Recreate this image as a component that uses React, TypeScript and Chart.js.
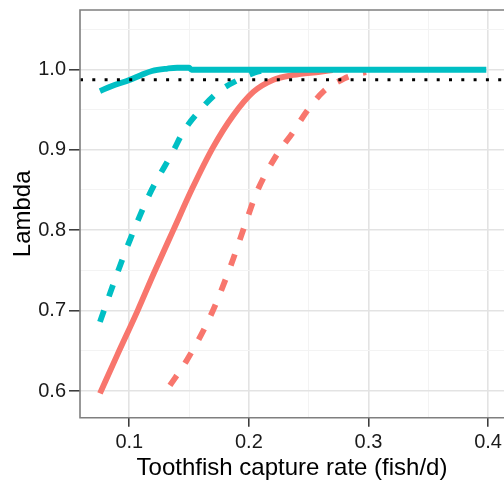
import React, { useEffect, useRef } from 'react';
import { Chart, registerables } from 'chart.js';

Chart.register(...registerables);

// Axis ticks
const xMajorTicks = [0.1, 0.2, 0.3, 0.4];
const xMinorTicks = [0.15, 0.25, 0.35];
const yMajorTicks = [0.6, 0.7, 0.8, 0.9, 1.0];
const yMinorTicks = [0.65, 0.75, 0.85, 0.95, 1.05];
const xRange = [0.0588, 0.4133];
const yRange = [0.5668, 1.0738];

// Series (x = capture rate, y = lambda)
const cyanSolidX = [0.0755, 0.085, 0.1006, 0.11, 0.119, 0.132, 0.14, 0.15, 0.152, 0.2, 0.3, 0.3985];
const cyanSolidY = [0.973, 0.979, 0.987, 0.993, 0.998, 1.001, 1.002, 1.002, 0.9995, 0.9995, 0.9995, 0.9995];

const cyanDashX = [0.0755, 0.0908, 0.1006, 0.117, 0.1368, 0.145, 0.159, 0.1744, 0.1926, 0.205, 0.213];
const cyanDashY = [0.686, 0.75, 0.788, 0.845, 0.8985, 0.922, 0.949, 0.972, 0.988, 0.996, 0.999];

const redSolidX = [0.0755, 0.09, 0.107, 0.121, 0.1368, 0.153, 0.17, 0.187, 0.2037, 0.2204, 0.237, 0.2595, 0.27];
const redSolidY = [0.597, 0.645, 0.7, 0.748, 0.8, 0.853, 0.903, 0.943, 0.972, 0.987, 0.993, 0.997, 0.999];

const redDashX = [0.134, 0.148, 0.1675, 0.184, 0.198, 0.2065, 0.223, 0.237, 0.248, 0.262, 0.279, 0.29, 0.298];
const redDashY = [0.607, 0.638, 0.692, 0.7525, 0.812, 0.847, 0.893, 0.922, 0.947, 0.972, 0.988, 0.994, 0.9965];

const thresholdY = 0.987;

const RED = '#F8766D';
const CYAN = '#00BFC4';
const FONT = "'Liberation Sans', Arial, sans-serif";

const toPts = (xs: number[], ys: number[]) => xs.map((x, i) => ({ x, y: ys[i] }));
const isIn = (arr: number[], v: number) => arr.some((m) => Math.abs(m - v) < 1e-9);

const panelBorder = {
  id: 'panelBorder',
  afterDraw(chart: any) {
    const { ctx, chartArea } = chart;
    const { left, top, right, bottom } = chartArea;
    ctx.save();
    ctx.strokeStyle = '#7f7f7f';
    ctx.lineWidth = 1.6;
    ctx.beginPath();
    ctx.moveTo(right + 5, top);
    ctx.lineTo(left, top);
    ctx.lineTo(left, bottom);
    ctx.lineTo(right + 5, bottom);
    ctx.stroke();
    ctx.restore();
  },
};

export default function App() {
  const ref = useRef<HTMLCanvasElement | null>(null);
  useEffect(() => {
    document.body.style.margin = '0';
    const canvas = ref.current;
    if (!canvas) return;
    const lineBase = {
      pointRadius: 0,
      pointHoverRadius: 0,
      fill: false,
      borderCapStyle: 'butt' as const,
      cubicInterpolationMode: 'monotone' as const,
    };
    const chart = new Chart(canvas, {
      type: 'line',
      data: {
        datasets: [
          {
            ...lineBase,
            label: 'threshold',
            data: [
              { x: xRange[0], y: thresholdY },
              { x: xRange[1], y: thresholdY },
            ],
            borderColor: '#000000',
            borderWidth: 3,
            borderDash: [3, 9.3],
          },
          {
            ...lineBase,
            label: 'cyan solid',
            data: toPts(cyanSolidX, cyanSolidY),
            borderColor: CYAN,
            borderWidth: 5.8,
          },
          {
            ...lineBase,
            label: 'cyan dashed',
            data: toPts(cyanDashX, cyanDashY),
            borderColor: CYAN,
            borderWidth: 5.8,
            borderDash: [12, 15],
          },
          {
            ...lineBase,
            label: 'red solid',
            data: toPts(redSolidX, redSolidY),
            borderColor: RED,
            borderWidth: 5.8,
          },
          {
            ...lineBase,
            label: 'red dashed',
            data: toPts(redDashX, redDashY),
            borderColor: RED,
            borderWidth: 5.8,
            borderDash: [12, 15],
          },
        ],
      },
      options: {
        responsive: false,
        animation: false,
        devicePixelRatio: 1,
        layout: { padding: { top: 10, right: 0, left: 0, bottom: 0 } },
        plugins: {
          legend: { display: false },
          tooltip: { enabled: false },
        },
        scales: {
          x: {
            type: 'linear',
            min: xRange[0],
            max: xRange[1],
            afterFit: (scale: any) => {
              scale.height = 73.3;
              scale.paddingLeft = 0;
              scale.paddingRight = 0;
            },
            afterBuildTicks: (scale: any) => {
              scale.ticks = [...xMajorTicks, ...xMinorTicks]
                .sort((a, b) => a - b)
                .map((v) => ({ value: v }));
            },
            border: { display: false },
            grid: {
              color: (ctx: any) => (isIn(xMajorTicks, ctx.tick?.value) ? '#e3e3e3' : '#f3f3f3'),
              lineWidth: (ctx: any) => (isIn(xMajorTicks, ctx.tick?.value) ? 1.6 : 1),
              tickColor: (ctx: any) => (isIn(xMajorTicks, ctx.tick?.value) ? '#333333' : 'rgba(0,0,0,0)'),
              tickWidth: 1.5,
              tickLength: 9,
              drawTicks: true,
            },
            ticks: {
              autoSkip: false,
              maxRotation: 0,
              padding: 4,
              color: '#1a1a1a',
              font: { family: FONT, size: 20 },
              callback: (v: any) => (isIn(xMajorTicks, Number(v)) ? Number(v).toFixed(1) : ''),
            },
            title: {
              display: true,
              text: 'Toothfish capture rate (fish/d)',
              color: '#000000',
              font: { family: FONT, size: 24, lineHeight: 1.2 },
              padding: { top: 2, bottom: 8 },
            },
          },
          y: {
            type: 'linear',
            min: yRange[0],
            max: yRange[1],
            afterFit: (scale: any) => {
              scale.width = 80;
              scale.paddingTop = 0;
              scale.paddingBottom = 0;
            },
            afterBuildTicks: (scale: any) => {
              scale.ticks = [...yMajorTicks, ...yMinorTicks]
                .sort((a, b) => a - b)
                .map((v) => ({ value: v }));
            },
            border: { display: false },
            grid: {
              color: (ctx: any) => (isIn(yMajorTicks, ctx.tick?.value) ? '#e3e3e3' : '#f3f3f3'),
              lineWidth: (ctx: any) => (isIn(yMajorTicks, ctx.tick?.value) ? 1.6 : 1),
              tickColor: (ctx: any) => (isIn(yMajorTicks, ctx.tick?.value) ? '#333333' : 'rgba(0,0,0,0)'),
              tickWidth: 1.5,
              tickLength: 11,
              drawTicks: true,
            },
            ticks: {
              autoSkip: false,
              padding: 3,
              color: '#1a1a1a',
              font: { family: FONT, size: 20 },
              callback: (v: any) => (isIn(yMajorTicks, Number(v)) ? Number(v).toFixed(1) : ''),
            },
            title: {
              display: true,
              text: 'Lambda',
              color: '#000000',
              font: { family: FONT, size: 24, lineHeight: 1.2 },
              padding: { top: 9, bottom: 2 },
            },
          },
        },
      },
      plugins: [panelBorder],
    });
    return () => chart.destroy();
  }, []);

  return (
    <div style={{ position: 'absolute', left: 0, top: 0, width: 504, height: 491, background: '#ffffff' }}>
      <canvas ref={ref} width={504} height={491} style={{ display: 'block' }} />
    </div>
  );
}
